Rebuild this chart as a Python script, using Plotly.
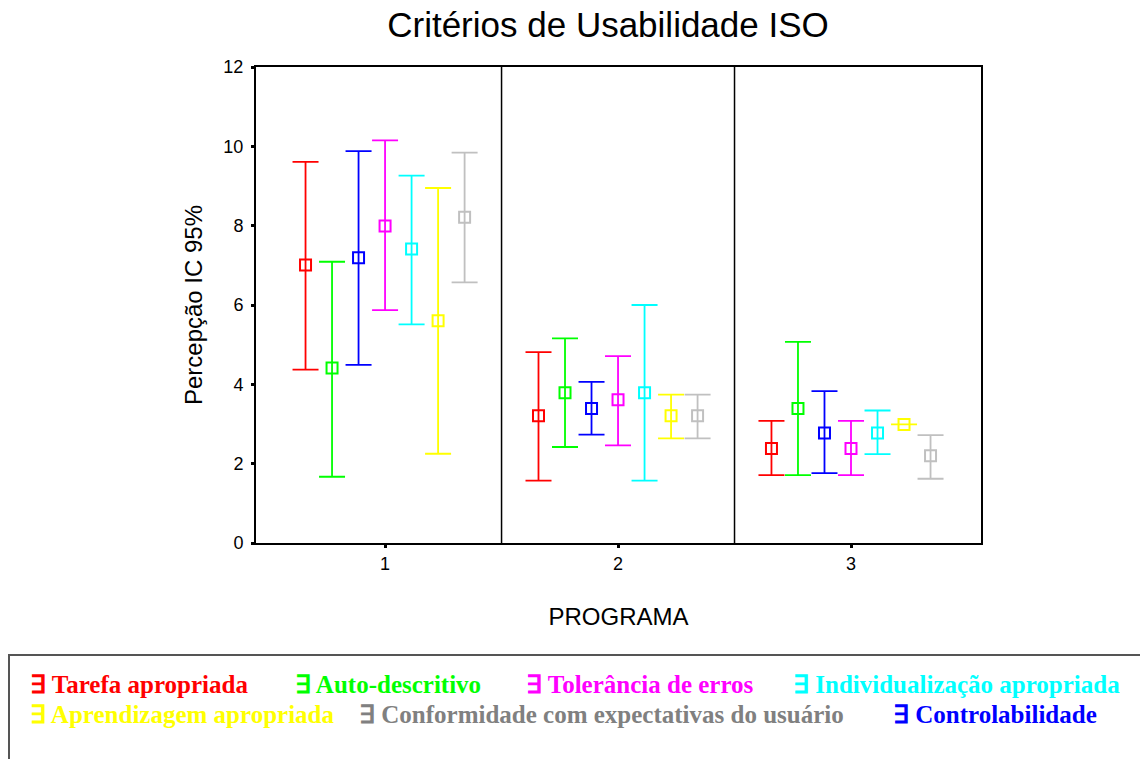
import plotly.graph_objects as go

programas = [1, 2, 3]
series_names = ["Tarefa apropriada", "Auto-descritivo", "Controlabilidade",
                "Tolerância de erros", "Individualização apropriada",
                "Aprendizagem apropriada", "Conformidade com expectativas do usuário"]
series_colors = ["#ff0000", "#00ff00", "#0000ff", "#ff00ff", "#00ffff", "#ffff00", "#c0c0c0"]

# mean, upper, lower per programa (1, 2, 3)
tarefa_mean = [7.01, 3.21, 2.38]
tarefa_hi = [9.61, 4.81, 3.08]
tarefa_lo = [4.37, 1.57, 1.71]

auto_mean = [4.41, 3.79, 3.39]
auto_hi = [7.09, 5.16, 5.07]
auto_lo = [1.67, 2.42, 1.71]

contr_mean = [7.19, 3.39, 2.77]
contr_hi = [9.88, 4.06, 3.83]
contr_lo = [4.49, 2.73, 1.76]

toler_mean = [7.99, 3.61, 2.38]
toler_hi = [10.15, 4.71, 3.08]
toler_lo = [5.87, 2.46, 1.71]

indiv_mean = [7.41, 3.79, 2.77]
indiv_hi = [9.26, 6.00, 3.34]
indiv_lo = [5.51, 1.57, 2.24]

aprend_mean = [5.60, 3.21, 2.99]
aprend_hi = [8.95, 3.74, 2.99]
aprend_lo = [2.25, 2.64, 2.99]

conf_mean = [8.21, 3.21, 2.20]
conf_hi = [9.84, 3.74, 2.72]
conf_lo = [6.57, 2.64, 1.62]

means = [tarefa_mean, auto_mean, contr_mean, toler_mean, indiv_mean, aprend_mean, conf_mean]
highs = [tarefa_hi, auto_hi, contr_hi, toler_hi, indiv_hi, aprend_hi, conf_hi]
lows = [tarefa_lo, auto_lo, contr_lo, toler_lo, indiv_lo, aprend_lo, conf_lo]

y_ticks = [0, 2, 4, 6, 8, 10, 12]

# legend (drawn as text, as in the original)
legend_labels = ["Tarefa apropriada", "Auto-descritivo", "Tolerância de erros",
                 "Individualização apropriada", "Aprendizagem apropriada",
                 "Conformidade com expectativas do usuário", "Controlabilidade"]
legend_colors = ["#ff0000", "#00ff00", "#ff00ff", "#00ffff", "#ffff00", "#808080", "#0000ff"]

W, H = 1140, 759
L, R, T, B = 256, 981, 67, 543

def px_x(p):
    return (p - L) / (R - L)

def px_y(p):
    return (B - p) / (B - T)

fig = go.Figure()
step = 0.1138
for i, name in enumerate(series_names):
    off = (i - 3) * step
    xs = [p + off for p in programas]
    m = means[i]
    up = [h - v for h, v in zip(highs[i], m)]
    dn = [v - lo for v, lo in zip(m, lows[i])]
    fig.add_trace(go.Scatter(
        x=xs, y=m, mode="markers", name=name, showlegend=False,
        marker=dict(symbol="square-open", size=11, color=series_colors[i],
                    line=dict(width=2, color=series_colors[i])),
        error_y=dict(type="data", symmetric=False, array=up, arrayminus=dn,
                     color=series_colors[i], thickness=1.8, width=13),
    ))

for xv in [1.5, 2.5]:
    fig.add_shape(type="line", xref="x", yref="paper", x0=xv, x1=xv, y0=0, y1=1,
                  line=dict(color="black", width=1.5))

# legend box
fig.add_shape(type="rect", xref="paper", yref="paper",
              x0=px_x(9), x1=px_x(1150), y0=px_y(655), y1=px_y(770),
              line=dict(color="#555555", width=2), fillcolor="rgba(0,0,0,0)")

legend_pos = [(28, 684), (293, 684), (524, 684), (791, 684),
              (28, 714), (357, 714), (891, 714)]
for lab, col, (lx, ly) in zip(legend_labels, legend_colors, legend_pos):
    fig.add_annotation(xref="paper", yref="paper", x=px_x(lx), y=px_y(ly),
                       xanchor="left", yanchor="middle", showarrow=False,
                       text="<b>\u2203 " + lab + "</b>",
                       font=dict(family="Liberation Serif", size=25, color=col))

fig.update_layout(
    width=W, height=H,
    margin=dict(l=L, r=W - R, t=T, b=H - B),
    paper_bgcolor="white", plot_bgcolor="white",
    title=dict(text="Critérios de Usabilidade ISO", x=608 / W, xanchor="center",
               y=1 - 25 / H, yanchor="middle",
               font=dict(family="Liberation Sans", size=35, color="black")),
    font=dict(family="Liberation Sans", color="black"),
    xaxis=dict(range=[0.446, 3.558], tickvals=programas, ticktext=[str(p) for p in programas],
               showgrid=False, zeroline=False, showline=True, linecolor="black", linewidth=2,
               mirror=True, ticks="outside", ticklen=3, tickwidth=3, tickcolor="black",
               tickfont=dict(size=18), ticklabelstandoff=0,
               title=dict(text="PROGRAMA", font=dict(size=24), standoff=36)),
    yaxis=dict(range=[0, 12], tickvals=y_ticks, showgrid=False, zeroline=False,
               showline=True, linecolor="black", linewidth=2, mirror=True,
               ticks="outside", ticklen=3, tickwidth=3, tickcolor="black",
               tickfont=dict(size=18), ticklabelstandoff=4,
               title=dict(text="Percepção IC 95%", font=dict(size=24), standoff=14)),
)

fig.write_html("out.html")
